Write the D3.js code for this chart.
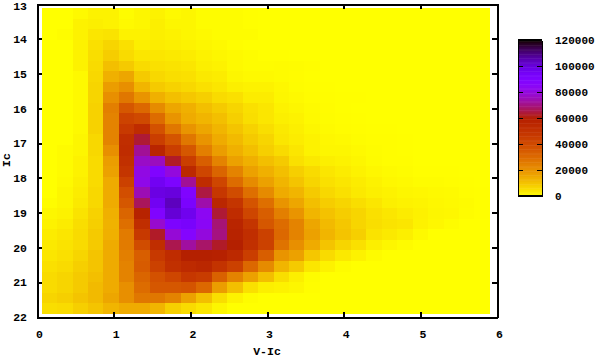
<!DOCTYPE html>
<html>
<head>
<meta charset="utf-8">
<script src="https://cdn.jsdelivr.net/npm/d3@7"></script>
<style>
  html, body { margin: 0; padding: 0; background: #fff; overflow: hidden; }
  svg { display: block; }
  text { font-family: "Liberation Mono", "DejaVu Sans Mono", monospace; font-weight: bold; font-size: 11.5px; fill: #000; }
  .axis path, .axis line { stroke: #000; stroke-width: 2px; shape-rendering: crispEdges; }
  .cbar-axis path, .cbar-axis line { stroke: #000; stroke-width: 1.5px; shape-rendering: crispEdges; }
</style>
</head>
<body>
<svg id="chart_svg"></svg>
<script>
var width = 595, height = 358;

// bin edges of the map, in axis units
var xEdges = [0.061, 0.263, 0.464, 0.666, 0.867, 1.069, 1.271, 1.472, 1.674, 1.875, 2.077, 2.279, 2.480, 2.682, 2.883, 3.085, 3.287, 3.488, 3.690, 3.891, 4.093, 4.295, 4.496, 4.698, 4.899, 5.101, 5.303, 5.504, 5.706, 5.907];
var yEdges = [13.115, 13.418, 13.721, 14.024, 14.327, 14.631, 14.934, 15.237, 15.540, 15.843, 16.146, 16.449, 16.752, 17.055, 17.358, 17.662, 17.965, 18.268, 18.571, 18.874, 19.177, 19.480, 19.783, 20.086, 20.389, 20.693, 20.996, 21.299, 21.602, 21.905];

var xTicks = [0, 1, 2, 3, 4, 5, 6];
var yTicks = [13, 14, 15, 16, 17, 18, 19, 20, 21, 22];
var cbarTicks = [0, 20000, 40000, 60000, 80000, 100000, 120000];

// counts per cell, in thousands (top row first)
var counts = [
  [0,0,1,2,2,.5,1.5,2,1,1.5,.5,.5,.5,.2,0,0,0,0,0,0,0,0,0,0,0,0,0,0,0],
  [0,0,2,2.5,2,1,1.5,2.5,1.5,1.5,.5,.5,.5,.2,0,0,0,0,0,0,0,0,0,0,0,0,0,0,0],
  [0,.5,2,4,4.5,2,2,2.5,2,1.5,1,.5,.5,.5,0,0,0,0,0,0,0,0,0,0,0,0,0,0,0],
  [0,0,2,5,7,5,2.5,3,2.5,2,1.5,1,.3,0,0,0,0,0,0,0,0,0,0,0,0,0,0,0,0],
  [0,0,2,5.5,8.5,6,4,4,3.5,3,2,1.5,1,.5,.2,.2,0,0,0,0,0,0,0,0,0,0,0,0,0],
  [0,0,2,6,11,9,6,5,4.5,4,2.5,2,1,.5,.5,.6,.5,.3,0,0,0,0,0,0,0,0,0,0,0],
  [0,0,1,6.5,14,16,9,6.5,5.5,5,3.5,3,1.5,1,1,.6,.4,.2,0,0,0,0,0,0,0,0,0,0,0],
  [0,0,1,7,18,21,13,9,7.5,6.5,5,4,2.5,2,2,1.2,.5,.3,.2,0,0,0,0,0,0,0,0,0,0],
  [0,0,1,7,21,27,20,14,11,9.5,8,6,5,3,3,1.5,1,.4,.3,.1,.1,0,0,0,0,0,0,0,0],
  [0,0,1,7.5,25,36,31,22,16,14,11,9,7,5,4,2,1.5,.8,.4,.2,0,0,0,0,0,0,0,0,0],
  [0,0,1,7.5,24,43,41,30,20,15,13,11,8,5.5,4,2.5,2,1,.5,.3,.1,0,0,0,0,0,0,0,0],
  [0,0,1,7.5,24,47,53,38,27,20,16,13,10,7.5,5.5,3.5,2.5,1.5,.8,.4,.3,.2,.1,0,0,0,0,0,0],
  [0,0,1.5,6.5,24,52,64,45,37,27,20,15,12,9,7,4,3,2,1.2,1,.5,.3,.3,.1,0,0,0,0,0],
  [0,.7,1.5,6.5,21,53,72,57,45,36,25,18,14,11,8,6,4,2,1.5,1.5,1,.5,.3,.1,0,0,0,0,0],
  [0,.7,2,6,18,51,77,76,63,45,34,24,17,14,11,9,5,3.5,2.5,2,1.5,.7,.3,.3,0,0,0,0,0],
  [0,.7,2,6,17,49,81,90,80,55,42,32,24,17,14,11,8,6,4,3,2,1.2,.8,.5,.2,.2,.1,0,0],
  [0,1,2.5,6,15,44,82,96,91,72,53,42,30,22,17,13,10,7,5,4,3,2,1.2,1,.5,.5,.3,.2,0],
  [0,1.5,3,6.5,15,39,75,99,100,90,65,48,40,29,22,15,13,9,6.5,5,3.5,2.5,2,1.5,1.3,1,.8,.3,.1],
  [.5,1.5,3.5,6.5,15,36,67,96,104,92,74,56,49,37,29,20,16,11,8.5,7,5.5,4,2.5,2,1.8,1.2,1,.7,.2],
  [1.5,2,4.5,7.5,14,32,58,90,101,97,84,64,53,42,34,25,20,13,10.5,8.5,7,5,4,3,2.2,1.5,1.2,.5,.2],
  [2,3,5.5,8,13.5,29,52,78,91,93,85,69,57,49,36,30,24,16,12,9.5,7,5.5,4.5,4,2,1.2,.5,0,0],
  [3,4,6,9,14,26,47,63,79,88,80,70,58,52,44,31,24,17,13,10,8,4.5,3.5,2.5,1,0,0,0,0],
  [3.5,4.5,6,9,15,26,40,52,66,73,68,63,60,51,44,28,21,15,10,7,5,2.5,1.5,.7,0,0,0,0,0],
  [4,5,7,10,15,25,34,47,53,60,60,59,55,45,34,20,17,9.5,6,3.5,2,.7,0,0,0,0,0,0,0],
  [5,6,8,10,15,24,35,44,51,54,56,50,44,31,22,13,9,4,2,.5,0,0,0,0,0,0,0,0,0],
  [6,7,9,11,15,24,32,38,42,48,46,33,24,17,11,5.5,2.5,.5,0,0,0,0,0,0,0,0,0,0,0],
  [6,7,9,12,15,21,30,36,36,37,31,18,11,5,2.5,2,1.5,.3,0,0,0,0,0,0,0,0,0,0,0],
  [7,8,10,12,16,21,27,27,24,17,11,5.5,2,.5,0,0,0,0,0,0,0,0,0,0,0,0,0,0,0],
  [5.5,6,8,10,13,15,15,13,8,6,4,1.5,0,0,0,0,0,0,0,0,0,0,0,0,0,0,0,0,0]
];

var svg = d3.select('#chart_svg')
  .attr('width', width)
  .attr('height', height);

var x = d3.scaleLinear().domain([0, 6]).range([37, 497]);
var y = d3.scaleLinear().domain([13, 22]).range([4, 317]);
var cbarY = d3.scaleLinear().domain([0, 120000]).range([196, 40]);

// gnuplot's default pm3d palette (rgbformulae 7,5,15), negative
function palette(v) {
  var g = 1 - v / 120000;
  var r = Math.sqrt(g);
  var gr = g * g * g;
  var b = Math.max(0, Math.sin(2 * Math.PI * g));
  return d3.rgb(255 * r, 255 * gr, 255 * b).formatHex();
}

counts.forEach(function(row, i) {
  svg.append('g')
    .selectAll('rect')
    .data(row)
    .enter()
    .append('rect')
    .attr('x', function(d, j) { return Math.round(x(xEdges[j])); })
    .attr('y', Math.round(y(yEdges[i])))
    .attr('width', function(d, j) { return Math.round(x(xEdges[j + 1])) - Math.round(x(xEdges[j])); })
    .attr('height', Math.round(y(yEdges[i + 1])) - Math.round(y(yEdges[i])))
    .attr('fill', function(d) { return palette(d * 1000); });
});

// frame with ticks on all four sides
var xAxis = d3.axisBottom(x).tickValues(xTicks).tickSize(-5).tickSizeOuter(0).tickPadding(13).tickFormat(d3.format('d'));
var yAxis = d3.axisLeft(y).tickValues(yTicks).tickSize(-5).tickSizeOuter(0).tickPadding(10).tickFormat(d3.format('d'));

var xAxisGroup = svg.append('g')
  .attr('class', 'axis x')
  .attr('transform', 'translate(0,' + y(22) + ')')
  .call(xAxis);
xAxisGroup.selectAll('text').attr('dx', 2);

var yAxisGroup = svg.append('g')
  .attr('class', 'axis y')
  .attr('transform', 'translate(' + x(0) + ',0)')
  .call(yAxis);
// keep the top label inside the picture
yAxisGroup.selectAll('text').filter(function(d) { return d === 13; }).attr('dy', '0.45em');

svg.append('g')
  .attr('class', 'axis')
  .attr('transform', 'translate(0,' + y(13) + ')')
  .call(d3.axisTop(x).tickValues(xTicks).tickSize(-5).tickSizeOuter(0).tickFormat(''));

svg.append('g')
  .attr('class', 'axis')
  .attr('transform', 'translate(' + x(6) + ',0)')
  .call(d3.axisRight(y).tickValues(yTicks).tickSize(-5).tickSizeOuter(0).tickFormat(''));

// colour box
var cbarLeft = 518, cbarRight = 542;

svg.append('g')
  .selectAll('rect')
  .data(d3.range(0, 120000, 1000))
  .enter()
  .append('rect')
  .attr('x', cbarLeft)
  .attr('y', function(d) { return cbarY(d + 1000); })
  .attr('width', cbarRight - cbarLeft)
  .attr('height', cbarY(0) - cbarY(1000) + 0.5)
  .attr('fill', function(d) { return palette(d + 500); });

svg.append('g')
  .attr('class', 'cbar-axis')
  .attr('transform', 'translate(' + cbarRight + ',0)')
  .call(d3.axisRight(cbarY).tickValues(cbarTicks).tickSize(-5).tickSizeOuter(0).tickPadding(13).tickFormat(d3.format('d')));

svg.append('g')
  .attr('class', 'cbar-axis')
  .attr('transform', 'translate(' + cbarLeft + ',0)')
  .call(d3.axisLeft(cbarY).tickValues(cbarTicks).tickSize(-5).tickSizeOuter(0).tickFormat(''));

svg.append('line')
  .attr('x1', cbarLeft).attr('x2', cbarRight)
  .attr('y1', cbarY(120000)).attr('y2', cbarY(120000))
  .attr('stroke', '#000').attr('stroke-width', 1.5).style('shape-rendering', 'crispEdges');
svg.append('line')
  .attr('x1', cbarLeft).attr('x2', cbarRight)
  .attr('y1', cbarY(0)).attr('y2', cbarY(0))
  .attr('stroke', '#000').attr('stroke-width', 1.5).style('shape-rendering', 'crispEdges');

svg.selectAll('.axis text')
  .style('font-family', '"Liberation Mono", "DejaVu Sans Mono", monospace')
  .style('font-size', '11.5px')
  .style('font-weight', 'bold');

// 11px so that six digits still fit before the right edge
svg.selectAll('.cbar-axis text')
  .style('font-family', '"Liberation Mono", "DejaVu Sans Mono", monospace')
  .style('font-size', '11px')
  .style('font-weight', 'bold');

svg.append('text')
  .attr('x', x(3))
  .attr('y', 354.5)
  .style('text-anchor', 'middle')
  .text('V-Ic');

svg.append('text')
  .attr('transform', 'translate(10,160) rotate(-90)')
  .style('text-anchor', 'middle')
  .text('Ic');
</script>
</body>
</html>
